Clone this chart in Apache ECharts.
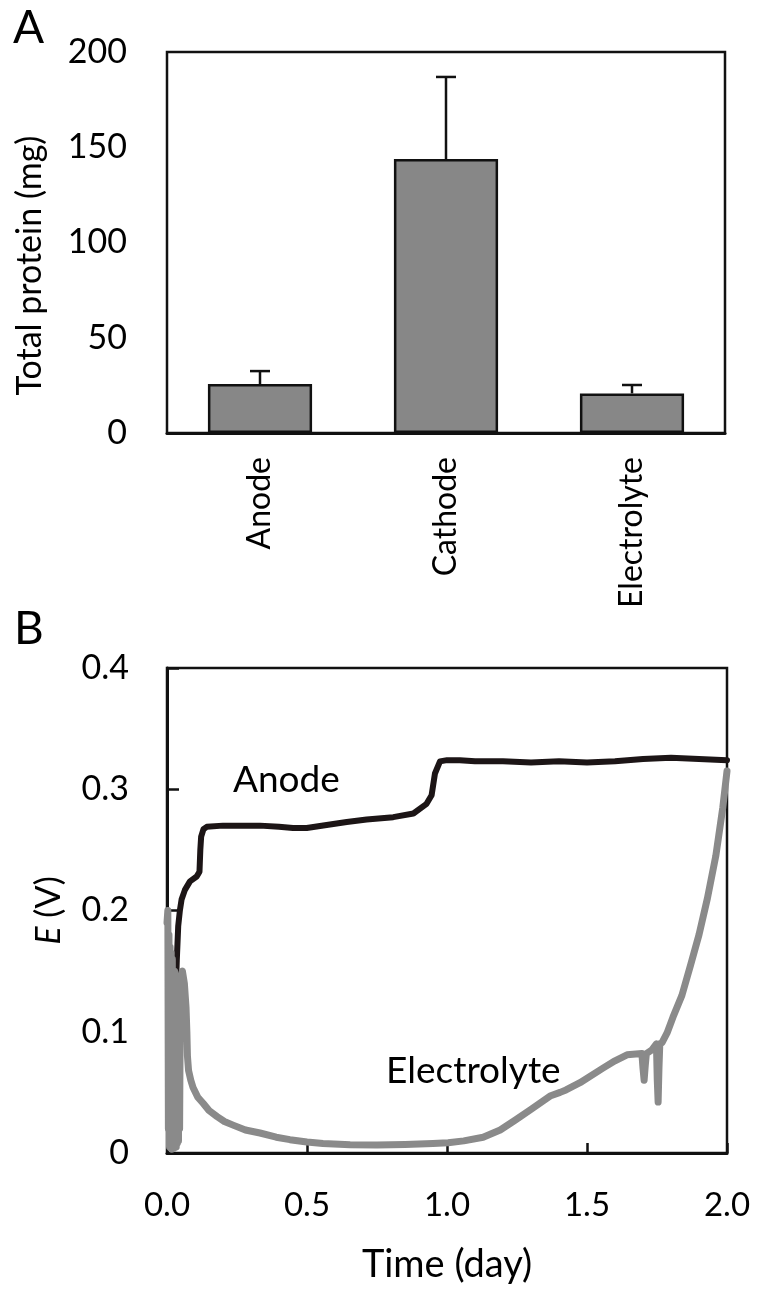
<!DOCTYPE html>
<html>
<head>
<meta charset="utf-8">
<script src="https://cdn.jsdelivr.net/npm/echarts@6/dist/echarts.min.js"></script>
<style>
html,body{margin:0;padding:0;background:#fff;}
#chart{width:764px;height:1300px;}
</style>
</head>
<body>
<div id="chart"></div>
<script>
// ---------- Panel A data ----------
const categories = ['Anode', 'Cathode', 'Electrolyte'];
const proteinMean = [25.7, 143.8, 20.8];
const proteinErr = [6.8, 43.1, 4.4];
const yTicksA = [0, 50, 100, 150, 200];

// ---------- Panel B data ----------
const anodeT = [0.033, 0.035, 0.040, 0.046, 0.052, 0.064, 0.082, 0.106, 0.116, 0.119, 0.122, 0.130, 0.142, 0.20, 0.25, 0.332, 0.40, 0.45, 0.499, 0.570, 0.642, 0.713, 0.808, 0.880, 0.927, 0.945, 0.957, 0.975, 1.00, 1.046, 1.10, 1.20, 1.30, 1.40, 1.50, 1.60, 1.70, 1.80, 1.90, 2.00];
const anodeE = [0.145, 0.159, 0.187, 0.200, 0.209, 0.217, 0.224, 0.228, 0.232, 0.250, 0.261, 0.267, 0.269, 0.270, 0.270, 0.270, 0.269, 0.268, 0.268, 0.2705, 0.273, 0.275, 0.277, 0.280, 0.288, 0.295, 0.313, 0.323, 0.324, 0.324, 0.323, 0.323, 0.322, 0.323, 0.322, 0.323, 0.325, 0.326, 0.325, 0.324];

const electT = [0.000, 0.003, 0.005, 0.007, 0.009, 0.011, 0.013, 0.015, 0.017, 0.019, 0.021, 0.023, 0.025, 0.027, 0.029, 0.031, 0.033, 0.035, 0.037, 0.039, 0.041, 0.043, 0.045, 0.048, 0.055, 0.062, 0.068, 0.071, 0.073, 0.077, 0.085, 0.093, 0.110, 0.129, 0.150, 0.179, 0.205, 0.236, 0.28, 0.332, 0.39, 0.439, 0.5, 0.557, 0.654, 0.75, 0.85, 0.95, 1.004, 1.06, 1.129, 1.19, 1.243, 1.30, 1.368, 1.404, 1.425, 1.475, 1.557, 1.600, 1.643, 1.696, 1.700, 1.704, 1.708, 1.712, 1.732, 1.748, 1.751, 1.754, 1.757, 1.760, 1.768, 1.786, 1.807, 1.839, 1.87, 1.90, 1.93, 1.96, 1.985, 2.0];
const electE = [0.190, 0.200, 0.020, 0.180, 0.005, 0.170, 0.004, 0.165, 0.003, 0.160, 0.005, 0.150, 0.004, 0.150, 0.006, 0.145, 0.005, 0.140, 0.008, 0.140, 0.010, 0.135, 0.020, 0.145, 0.150, 0.140, 0.120, 0.100, 0.080, 0.068, 0.060, 0.054, 0.046, 0.041, 0.035, 0.030, 0.026, 0.023, 0.019, 0.0165, 0.013, 0.011, 0.009, 0.0078, 0.0068, 0.0066, 0.007, 0.0078, 0.0085, 0.010, 0.013, 0.019, 0.027, 0.036, 0.047, 0.050, 0.052, 0.058, 0.070, 0.076, 0.081, 0.082, 0.070, 0.060, 0.072, 0.082, 0.085, 0.090, 0.060, 0.042, 0.070, 0.090, 0.091, 0.099, 0.112, 0.130, 0.155, 0.180, 0.210, 0.245, 0.285, 0.315];
const xTicksB = ['0.0', '0.5', '1.0', '1.5', '2.0'];
const yTicksB = ['0', '0.1', '0.2', '0.3', '0.4'];

const FONT = 'Lato';
const chart = echarts.init(document.getElementById('chart'), null, {renderer: 'canvas'});

const anodeData = anodeT.map((t, i) => [t, anodeE[i]]);
const electData = electT.map((t, i) => [t, electE[i]]);
const errData = categories.map((c, i) => [i, proteinMean[i], proteinErr[i]]);

const option = {
  backgroundColor: '#fff',
  animation: false,
  textStyle: {fontFamily: FONT, color: '#000'},
  title: [
    {text: 'A', left: 8, top: 0, textStyle: {fontFamily: FONT, fontSize: 46, fontWeight: 'normal', color: '#000'}},
    {text: 'B', left: 9, top: 601, textStyle: {fontFamily: FONT, fontSize: 46, fontWeight: 'normal', color: '#000'}}
  ],
  grid: [
    {left: 167, top: 52, width: 558, height: 381, show: true, borderColor: '#111', borderWidth: 2.5, backgroundColor: 'transparent'},
    {left: 167, top: 668, width: 560, height: 485, show: true, borderColor: '#111', borderWidth: 2.5, backgroundColor: 'transparent'}
  ],
  xAxis: [
    {
      type: 'category', gridIndex: 0, data: categories,
      axisLine: {lineStyle: {color: '#111', width: 3}},
      axisTick: {show: false},
      axisLabel: {rotate: 90, margin: 24, fontSize: 32, fontFamily: FONT, color: '#000'},
      splitLine: {show: false}
    },
    {
      type: 'value', gridIndex: 1, min: 0, max: 2, interval: 0.5,
      name: 'Time (day)', nameLocation: 'middle', nameGap: 93,
      nameTextStyle: {fontSize: 38, fontFamily: FONT, color: '#000'},
      axisLine: {lineStyle: {color: '#111', width: 3}},
      axisTick: {inside: true, length: 10, lineStyle: {color: '#111', width: 2.5}},
      axisLabel: {margin: 36, fontSize: 33, fontFamily: FONT, color: '#000',
        formatter: (v) => xTicksB[Math.round(v / 0.5)]},
      splitLine: {show: false}
    }
  ],
  yAxis: [
    {
      type: 'value', gridIndex: 0, min: yTicksA[0], max: yTicksA[yTicksA.length - 1], interval: 50,
      name: 'Total protein (mg)', nameLocation: 'middle', nameGap: 120,
      nameTextStyle: {fontSize: 34, fontFamily: FONT, color: '#000', padding: [0, 46, 0, 0]},
      axisLine: {lineStyle: {color: '#111', width: 3}},
      axisTick: {inside: true, length: 13, lineStyle: {color: '#111', width: 2.5}},
      axisLabel: {margin: 40, fontSize: 34, fontFamily: FONT, color: '#000'},
      splitLine: {show: false}
    },
    {
      type: 'value', gridIndex: 1, min: 0, max: 0.4, interval: 0.1,
      name: '{i|E} (V)', nameLocation: 'middle', nameGap: 101,
      nameTextStyle: {fontSize: 34, fontFamily: FONT, color: '#000',
        rich: {i: {fontStyle: 'italic', fontSize: 34, fontFamily: FONT, color: '#000'}}},
      axisLine: {lineStyle: {color: '#111', width: 3}},
      axisTick: {inside: true, length: 12, lineStyle: {color: '#111', width: 2.5}},
      axisLabel: {margin: 38, fontSize: 34, fontFamily: FONT, color: '#000',
        formatter: (v) => yTicksB[Math.round(v / 0.1)]},
      splitLine: {show: false}
    }
  ],
  graphic: [
    {type: 'text', left: 233, top: 762, style: {text: 'Anode', font: '37px Lato', fill: '#000'}},
    {type: 'text', left: 386, top: 1053, style: {text: 'Electrolyte', font: '37px Lato', fill: '#000'}}
  ],
  series: [
    {
      type: 'bar', xAxisIndex: 0, yAxisIndex: 0, data: proteinMean, barWidth: '56%',
      itemStyle: {color: '#878787', borderColor: '#111', borderWidth: 2.5}
    },
    {
      type: 'custom', xAxisIndex: 0, yAxisIndex: 0, data: errData, z: 3,
      renderItem: function (params, api) {
        const i = api.value(0), m = api.value(1), e = api.value(2);
        const p0 = api.coord([i, m]);
        const p1 = api.coord([i, m + e]);
        const hw = 10;
        const style = {stroke: '#111', lineWidth: 2.5};
        return {type: 'group', children: [
          {type: 'line', shape: {x1: p0[0], y1: p0[1], x2: p1[0], y2: p1[1]}, style: style},
          {type: 'line', shape: {x1: p1[0] - hw, y1: p1[1], x2: p1[0] + hw, y2: p1[1]}, style: style}
        ]};
      }
    },
    {
      type: 'line', xAxisIndex: 1, yAxisIndex: 1, data: anodeData, showSymbol: false,
      lineStyle: {color: '#1c1516', width: 6, join: 'round', cap: 'round'}, z: 2
    },
    {
      type: 'line', xAxisIndex: 1, yAxisIndex: 1, data: electData, showSymbol: false,
      lineStyle: {color: '#8a8a8a', width: 7, join: 'round', cap: 'round'}, z: 3
    }
  ]
};
chart.setOption(option);
</script>
</body>
</html>
